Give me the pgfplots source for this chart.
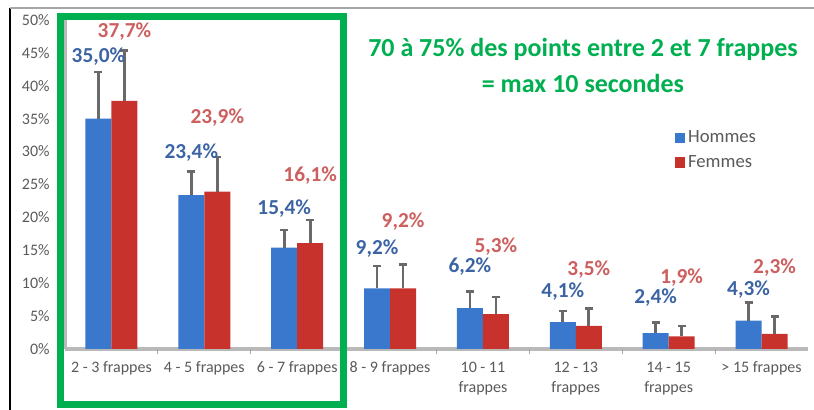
\documentclass[border=0pt]{standalone}
\usepackage{fontspec}
\setmainfont{Carlito}
\usepackage{pgfplots}
\pgfplotsset{compat=1.18}
\usepackage{pgfplotstable}
\definecolor{blueA}{RGB}{58,120,205}
\definecolor{redA}{RGB}{200,50,45}
\definecolor{blueLab}{RGB}{60,100,165}
\definecolor{redLab}{RGB}{205,95,95}
\definecolor{xlgreen}{RGB}{0,176,80}
\definecolor{ticktxt}{RGB}{90,90,90}
\definecolor{errgray}{RGB}{105,105,105}

\pgfplotstableread{
x h eh hl f ef fl
0 35.0 7.1 44.4 37.7 7.7 48.2
1 23.4 3.6 29.9 23.9 5.3 35.1
2 15.4 2.7 21.4 16.1 3.5 26.4
3 9.2 3.4 15.3 9.2 3.6 19.3
4 6.2 2.5 12.6 5.3 2.6 15.5
5 4.1 1.7 8.8 3.5 2.7 12.0
6 2.4 1.6 7.8 1.9 1.6 10.8
7 4.3 2.8 9.0 2.3 2.6 12.3
}\data

\begin{document}
\begin{tikzpicture}
\begin{axis}[
  scale only axis, width=557.25pt, height=246.75pt,
  xmin=-0.5, xmax=7.5, ymin=0, ymax=50,
  /pgf/number format/assume math mode=true,
  axis lines=left,
  axis line style={-, draw=gray!55, line width=2.5pt},
  xtick={0,...,7},
  xticklabels={2 - 3 frappes, 4 - 5 frappes, 6 - 7 frappes, 8 - 9 frappes, {10 - 11\\frappes}, {12 - 13\\frappes}, {14 - 15\\frappes}, > 15 frappes},
  xticklabel style={align=center, font=\fontsize{12}{15.5}\selectfont, text=ticktxt, yshift=-6pt},
  major tick length=0pt,
  extra x ticks={0.5,1.5,...,6.5},
  extra x tick labels={},
  extra x tick style={major tick length=4pt, tick align=outside, tick style={draw=gray!70, line width=0.8pt}},
  ytick={0,5,...,50},
  yticklabel={\pgfmathprintnumber{\tick}\%},
  yticklabel style={font=\fontsize{12}{14}\selectfont, text=ticktxt, xshift=-8pt},
  legend style={at={(rel axis cs:0.815,0.68)}, anchor=north west, draw=none, fill=none,
    font=\fontsize{14}{16}\selectfont, text=ticktxt, row sep=4pt},
  legend cell align=left,
  clip=false,
]
\addplot[ybar, bar width=19.5pt, bar shift=-9.75pt, draw=none, fill=blueA,
  legend image code/.code={\fill[blueA] (0pt,-4pt) rectangle (8pt,4pt);}]
  table[x=x, y=h] {\data};
\addlegendentry{Hommes}
\addplot[ybar, bar width=19.5pt, bar shift=9.75pt, draw=none, fill=redA,
  legend image code/.code={\fill[redA] (0pt,-4pt) rectangle (8pt,4pt);}]
  table[x=x, y=f] {\data};
\addlegendentry{Femmes}
% error bars (shifted by half a bar width: 9.75pt = 0.14 x-units)
\addplot[draw=none, mark=none, forget plot,
  error bars/.cd, y dir=plus, y explicit,
  error bar style={line width=2pt, draw=errgray},
  error mark options={rotate=90, mark size=3pt, line width=2pt, draw=errgray}]
  table[x expr=\thisrow{x}-0.14, y=h, y error=eh] {\data};
\addplot[draw=none, mark=none, forget plot,
  error bars/.cd, y dir=plus, y explicit,
  error bar style={line width=2pt, draw=errgray},
  error mark options={rotate=90, mark size=3pt, line width=2pt, draw=errgray}]
  table[x expr=\thisrow{x}+0.14, y=f, y error=ef] {\data};
% data labels
\addplot[draw=none, mark=none, forget plot, point meta=explicit,
  nodes near coords={\pgfmathprintnumber[fixed, fixed zerofill, precision=1, use comma]{\pgfplotspointmeta}\%},
  every node near coord/.append style={anchor=center, inner sep=0pt, text=blueLab, font=\fontsize{16}{18}\selectfont\bfseries}]
  table[x expr=\thisrow{x}-0.14, y=hl, meta=h] {\data};
\addplot[draw=none, mark=none, forget plot, point meta=explicit,
  nodes near coords={\pgfmathprintnumber[fixed, fixed zerofill, precision=1, use comma]{\pgfplotspointmeta}\%},
  every node near coord/.append style={anchor=center, inner sep=0pt, text=redLab, font=\fontsize{16}{18}\selectfont\bfseries}]
  table[x expr=\thisrow{x}+0.14, y=fl, meta=f] {\data};
\end{axis}
% frame of the screenshot
\draw[black, line width=1.2pt] (-41.25pt,-45.75pt) -- (-41.25pt,255.75pt);
\draw[gray!70, line width=1.5pt] (-41.25pt,255.75pt) -- (561.75pt,255.75pt);
% green highlight box
\draw[xlgreen, line width=5pt] (-3.4pt,-41.6pt) rectangle (208.9pt,249.4pt);
% annotation
\node[align=center, text=xlgreen, font=\fontsize{19.5}{27.5}\selectfont\bfseries] at (388.5pt,212.6pt)
  {70 à 75\% des points entre 2 et 7 frappes\\= max 10 secondes};
\pgfresetboundingbox
\path[use as bounding box] (-48.75pt,-45.75pt) rectangle (561.75pt,261.75pt);
\end{tikzpicture}
\end{document}
